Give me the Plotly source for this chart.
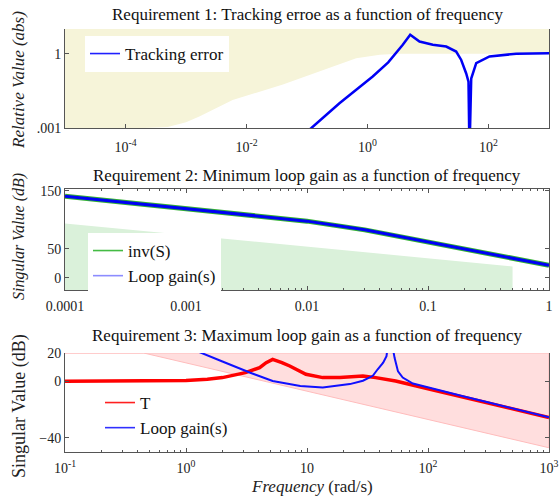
import math
import plotly.graph_objects as go

W, H = 559, 497
SERIF = "Liberation Serif"

# ---------- Requirement 1: tracking error ----------
req1_bound_freq = [1e-5, 2e-4, 5e-4, 1e-3, 1.66e-3, 3e-3, 5.9e-3, 0.04, 0.18, 0.65, 1.6, 3.2, 1e3]
req1_bound_val = [1e-3, 1e-3, 1.1e-3, 1.7e-3, 2.9e-3, 6e-3, 0.0135, 0.057, 0.22, 0.66, 0.91, 1.0, 1.0]
req1_top = 10.0

track_freq = [0.08, 0.117, 0.344, 1.22, 2.2, 2.98, 3.83, 5.08, 7.24, 12.0, 20.0, 29.2,
              35.4, 42.8, 46.7, 48.5, 51.8, 62.7, 104, 287, 1000]
track_err = [4.5e-4, 9.8e-4, 0.010, 0.12, 0.45, 1.05, 2.3, 5.9, 3.1, 2.3, 1.95, 1.23,
             0.56, 0.16, 0.074, 1e-4, 0.10, 0.42, 0.78, 1.0, 1.05]

# ---------- Requirement 2: minimum loop gain ----------
req2_freq = [1e-4, 3e-4, 1e-3, 3e-3, 1e-2, 3e-2, 0.1, 0.3, 1.0]
inv_s_db = [141, 131, 119.5, 109, 98, 83, 62, 43, 22]
loop2_db = [141, 131, 119.5, 109, 98, 83, 62, 43, 22]
req2_bound_freq = [1e-4, 0.5]
req2_bound_db = [94, 20]
req2_ylim = [-20.7, 153.4]

# ---------- Requirement 3: maximum loop gain ----------
req3_bound_freq = [0.1, 0.447, 1000]
req3_bound_db = [20, 20, -47]
req3_ylim = [-50, 20]

t_freq = [0.1, 0.5, 1.0, 1.5, 2.0, 3.1, 4.06, 4.6, 5.2, 6.2, 7.2, 9.8, 13.5, 18.7, 25, 29,
          37, 54, 104, 269, 500, 1000]
t_db = [0, 0.1, 0.6, 1.5, 2.6, 6.1, 9.7, 13.2, 15.5, 13.2, 10.8, 5, 2.6, 2.6, 3.3, 3.7,
        2.6, 0.2, -5.6, -13.9, -19.2, -25.6]

loop3_freq = [1.2, 1.26, 2.0, 3.4, 5.2, 8.8, 13.5, 22.6, 29, 32.7, 35, 38.4, 42.6, 45.4,
              47.5, 49, 50.5, 53, 56.5, 61.8, 75, 104, 150, 195, 300, 500, 1000]
loop3_db = [22, 21, 14, 6, 0.2, -3.3, -4.4, -2, 0.4, 2.6, 3.9, 8.5, 13.2, 17.8,
            26, 40, 26, 16.4, 7, 2.6, -1.6, -4.5, -8, -10.6, -14.5, -19, -25.5]

# ---------- layout geometry (pixels) ----------
X0, X1 = 65, 549
panels = {1: (29, 128), 2: (189, 290), 3: (353, 452)}


def ydom(p):
    top, bot = panels[p]
    return [1 - bot / H, 1 - top / H]


xdom = [X0 / W, X1 / W]
tickfont = dict(family=SERIF, size=14, color="#222")
LINE = "#555"
BLUE = "#0000f5"

fig = go.Figure()


def legend_entry(name, color, legend, group=None):
    # thin sample line shown in the legend box; data lines are drawn heavier
    return go.Scatter(x=[None], y=[None], mode="lines", name=name,
                      line=dict(color=color, width=1.6), legend=legend,
                      legendgroup=group, hoverinfo="skip")


# Panel 1
fig.add_trace(go.Scatter(
    x=req1_bound_freq + [req1_bound_freq[-1], req1_bound_freq[0]],
    y=req1_bound_val + [req1_top, req1_top],
    fill="toself", fillcolor="#f6f4d9", line=dict(width=0, color="#f6f4d9"),
    mode="lines", showlegend=False, hoverinfo="skip", xaxis="x", yaxis="y"))
fig.add_trace(go.Scatter(
    x=track_freq, y=track_err, mode="lines", name="Tracking error", showlegend=False,
    line=dict(color=BLUE, width=2.5), xaxis="x", yaxis="y"))
fig.add_trace(legend_entry("Tracking error", "#2020ff", "legend"))

# Panel 2
fig.add_trace(go.Scatter(
    x=req2_bound_freq + [req2_bound_freq[-1], req2_bound_freq[0]],
    y=req2_bound_db + [req2_ylim[0], req2_ylim[0]],
    fill="toself", fillcolor="#daf1da", line=dict(width=0, color="#daf1da"),
    mode="lines", showlegend=False, hoverinfo="skip", xaxis="x2", yaxis="y2"))
fig.add_trace(go.Scatter(
    x=req2_freq, y=inv_s_db, mode="lines", name="inv(S)", showlegend=False,
    line=dict(color="#33b033", width=5), xaxis="x2", yaxis="y2"))
fig.add_trace(go.Scatter(
    x=req2_freq, y=loop2_db, mode="lines", name="Loop gain(s)", showlegend=False,
    line=dict(color=BLUE, width=3), xaxis="x2", yaxis="y2"))
fig.add_trace(legend_entry("inv(S)", "#44bb44", "legend2"))
fig.add_trace(legend_entry("Loop gain(s)", "#8c8cff", "legend2"))

# Panel 3
fig.add_trace(go.Scatter(
    x=req3_bound_freq + [req3_bound_freq[-1], req3_bound_freq[0]],
    y=req3_bound_db + [req3_ylim[1], req3_ylim[1]],
    fill="toself", fillcolor="#ffdede", line=dict(width=1, color="#ffbcbc"),
    mode="lines", showlegend=False, hoverinfo="skip", xaxis="x3", yaxis="y3"))
fig.add_trace(go.Scatter(
    x=t_freq, y=t_db, mode="lines", name="T", showlegend=False,
    line=dict(color="#ff0000", width=3.5), xaxis="x3", yaxis="y3"))
fig.add_trace(go.Scatter(
    x=loop3_freq, y=loop3_db, mode="lines", name="Loop gain(s)", showlegend=False,
    line=dict(color="#1010ff", width=2), xaxis="x3", yaxis="y3"))
fig.add_trace(legend_entry("T", "#ff2020", "legend3", "t"))
fig.add_trace(legend_entry("Loop gain(s)", "#3030ff", "legend3", "l"))


def log_x(lo, hi, anchor, tickvals, ticktext, minor, mirror, side="bottom",
          overlaying=None, labels=True, line=True, standoff=0):
    d = dict(type="log", range=[math.log10(lo), math.log10(hi)], anchor=anchor,
             tickvals=tickvals, ticktext=ticktext, ticks="inside", ticklen=4,
             tickcolor=LINE, showline=line, linecolor=LINE, linewidth=1,
             mirror=mirror, showgrid=False, zeroline=False, tickfont=tickfont,
             showticklabels=labels, side=side, automargin=False,
             ticklabelstandoff=standoff)
    if overlaying:
        d["overlaying"] = overlaying
    else:
        d["domain"] = xdom
    if minor:
        d["minor"] = dict(ticks="inside", ticklen=2, tickcolor=LINE, dtick="D1",
                          showgrid=False)
    return d


def lin_y(rng, p, anchor, tickvals, mirror):
    return dict(range=rng, domain=ydom(p), anchor=anchor, tickvals=tickvals,
                ticks="inside", ticklen=4, tickcolor=LINE, showline=True,
                linecolor=LINE, mirror=mirror, showgrid=False, zeroline=False,
                tickfont=tickfont, automargin=False)


p1_ticks = [1e-4, 1e-2, 1, 1e2]
p1_text = ["10<sup>-4</sup>", "10<sup>-2</sup>", "10<sup>0</sup>", "10<sup>2</sup>"]
p2_ticks = [1e-4, 1e-3, 1e-2, 1e-1, 1]
p2_text = ["0.0001", "0.001", "0.01", "0.1", "1"]
p3_ticks = [0.1, 1, 10, 100, 1000]
p3_text = ["10<sup>-1</sup>", "10<sup>0</sup>", "10", "10<sup>2</sup>", "10<sup>3</sup>"]

legend_font = dict(family=SERIF, size=17, color="#111")
layout = dict(
    width=W, height=H, autosize=False,
    margin=dict(l=0, r=0, t=0, b=0, pad=0),
    paper_bgcolor="white", plot_bgcolor="white",
    xaxis=log_x(1e-5, 1e3, "y", p1_ticks, p1_text, False, False, standoff=6),
    xaxis4=log_x(1e-5, 1e3, "y", p1_ticks, p1_text, False, False, side="top",
                 overlaying="x", labels=False, line=False),
    xaxis2=log_x(1e-4, 1, "y2", p2_ticks, p2_text, True, "ticks", standoff=3),
    xaxis3=log_x(0.1, 1000, "y3", p3_ticks, p3_text, True, False, standoff=3),
    xaxis5=log_x(0.1, 1000, "y3", p3_ticks, p3_text, True, False, side="top",
                 overlaying="x3", labels=False, line=False),
    yaxis=dict(type="log", range=[-3, 1], domain=ydom(1), anchor="x",
               tickvals=[1e-3, 1], ticktext=[".001", "1"], ticks="inside", ticklen=4,
               tickcolor=LINE, showline=True, linecolor=LINE, mirror=True,
               showgrid=False, zeroline=False, tickfont=tickfont, automargin=False),
    yaxis2=lin_y(req2_ylim, 2, "x2", [0, 50, 150], "ticks"),
    yaxis3=lin_y(req3_ylim, 3, "x3", [-40, 0, 20], "ticks"),
    legend=dict(x=85 / W, y=1 - 36 / H, xanchor="left", yanchor="top",
                bgcolor="white", borderwidth=0, font=legend_font),
    legend2=dict(x=88 / W, y=1 - 233 / H, xanchor="left", yanchor="top",
                 bgcolor="white", borderwidth=0, font=legend_font),
    legend3=dict(x=100 / W, y=1 - 385 / H, xanchor="left", yanchor="top",
                 bgcolor="rgba(255,255,255,0)", borderwidth=0,
                 traceorder="grouped", tracegroupgap=0, font=legend_font),
    showlegend=True,
)
fig.update_layout(**layout)

titles = [
    ("Requirement 1: Tracking erroe as a function of frequency", 15),
    ("Requirement 2: Minimum loop gain as a function of frequency", 175),
    ("Requirement 3: Maximum loop gain as a function of frequency", 335),
]
for text, ypx in titles:
    fig.add_annotation(text=text, x=(X0 + X1) / 2 / W, y=1 - ypx / H, xref="paper",
                       yref="paper", showarrow=False, xanchor="center", yanchor="middle",
                       font=dict(family=SERIF, size=17, color="#111"))

ylabels = [
    ("<i>Relative Value (abs)</i>", 80, 17),
    ("<i>Singular Value (dB)</i>", 237, 16),
    ("Singular Value (dB)", 406, 18),
]
for text, ypx, size in ylabels:
    fig.add_annotation(text=text, x=19 / W, y=1 - ypx / H, xref="paper", yref="paper",
                       showarrow=False, textangle=-90, xanchor="center", yanchor="middle",
                       font=dict(family=SERIF, size=size, color="#222"))

fig.add_annotation(text="<i>Frequency</i> (rad/s)", x=312 / W, y=1 - 486 / H,
                   xref="paper", yref="paper", showarrow=False, xanchor="center",
                   yanchor="middle", font=dict(family=SERIF, size=17, color="#222"))

fig.write_html("out.html")
